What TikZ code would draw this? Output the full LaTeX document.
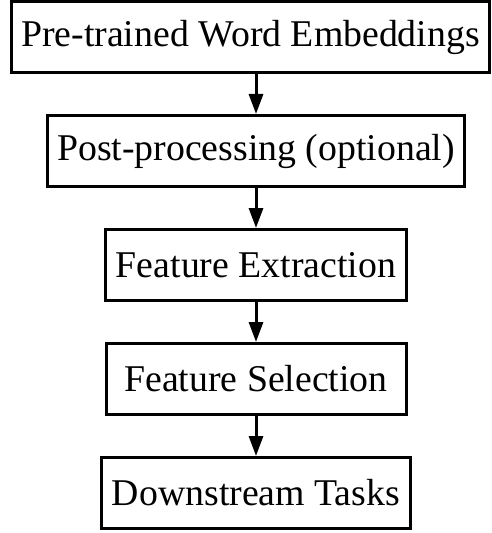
\documentclass[tikz,border=0pt]{standalone}
\usepackage{fontspec}
\setmainfont{Liberation Serif}
\usetikzlibrary{positioning, arrows.meta}

\begin{document}
\begin{tikzpicture}[node distance = 0.8cm, line width = 0.06cm,
    stepbox/.style = {draw, rectangle, minimum width = 6cm, minimum height = 1.42cm,
        inner xsep = 0.2cm, font = \fontsize{21.5}{25}\selectfont},
    flow/.style = {-{Triangle[length = 0.4cm, width = 0.28cm]}}]
    \useasboundingbox (0,0) rectangle (9.82,-10.66);
    \node[stepbox] (embed) at (5.01,-0.74) {Pre-trained Word Embeddings};
    \node[stepbox, below = of embed, xshift = 0.11cm] (post) {Post-processing (optional)};
    \node[stepbox, below = of post] (extract) {Feature Extraction};
    \node[stepbox, below = of extract] (select) {Feature Selection};
    \node[stepbox, below = of select] (tasks) {Downstream Tasks};
    \draw[flow] (post.north |- embed.south) -- (post);
    \draw[flow] (post) -- (extract);
    \draw[flow] (extract) -- (select);
    \draw[flow] (select) -- (tasks);
\end{tikzpicture}
\end{document}
